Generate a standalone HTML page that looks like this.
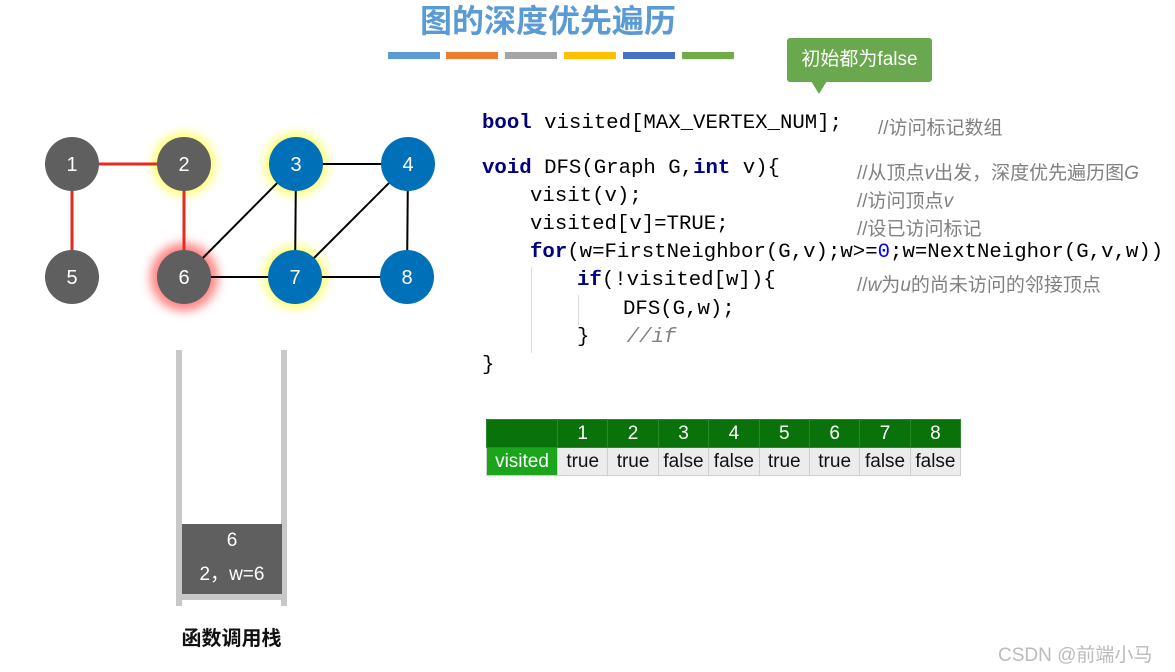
<!DOCTYPE html>
<html><head><meta charset="utf-8"><style>
body{margin:0;width:1175px;height:672px;background:#fff;position:relative;overflow:hidden;font-family:"Liberation Sans","Noto Sans CJK SC",sans-serif}
.a{position:absolute;white-space:pre}
.code{font-family:"Liberation Mono","Noto Sans CJK SC",monospace;font-size:20.7px;color:#000;line-height:24px}
.k{color:#000080;font-weight:bold}
.c{color:#808080;font-family:"Liberation Sans","Noto Sans CJK SC",sans-serif;font-size:19px}
.ci{color:#808080;font-style:italic}
table{border-collapse:collapse;position:absolute;left:486px;top:419px;font-size:19px}
td{width:49.4px;height:27px;padding:0;text-align:center;border:1px solid #cfcfcf}
tr.h td{background:#0a720a;color:#fff;border-color:#2a8a2a}
tr.b td{background:#ececec;color:#111}
</style></head><body>
<div class="a" style="left:420px;top:-4px;font-size:32px;font-weight:bold;color:#5b9bd5">图的深度优先遍历</div>
<div class="a" style="left:388px;top:52px;width:52px;height:7px;background:#5b9bd5"></div>
<div class="a" style="left:446px;top:52px;width:52px;height:7px;background:#ed7d31"></div>
<div class="a" style="left:505px;top:52px;width:52px;height:7px;background:#a5a5a5"></div>
<div class="a" style="left:564px;top:52px;width:52px;height:7px;background:#ffc000"></div>
<div class="a" style="left:623px;top:52px;width:52px;height:7px;background:#4472c4"></div>
<div class="a" style="left:682px;top:52px;width:52px;height:7px;background:#70ad47"></div>
<div class="a" style="left:787px;top:38px;width:145px;height:44px;background:#6aa84f;border-radius:3px;color:#fff;font-size:19px;line-height:44px;text-align:center">初始都为false</div>
<div class="a" style="left:811px;top:81px;width:0;height:0;border-left:8px solid transparent;border-right:8px solid transparent;border-top:13px solid #6aa84f"></div>

<svg class="a" style="left:0;top:0" width="460" height="340">
<defs>
<filter id="gy" x="-50%" y="-50%" width="200%" height="200%"><feGaussianBlur stdDeviation="5"/></filter>
</defs>
<circle cx="184" cy="164" r="31" fill="#ffff66" filter="url(#gy)"/>
<circle cx="296" cy="164" r="31" fill="#ffff66" filter="url(#gy)"/>
<circle cx="295" cy="277" r="31" fill="#ffff66" filter="url(#gy)"/>
<circle cx="184" cy="277" r="34" fill="#ff6666" opacity=".8" filter="url(#gy)"/>
<g stroke="#e8291c" stroke-width="3"><line x1="72" y1="164" x2="184" y2="164"/><line x1="72" y1="164" x2="72" y2="277"/><line x1="184" y1="164" x2="184" y2="277"/></g>
<g stroke="#000" stroke-width="2"><line x1="296" y1="164" x2="408" y2="164"/><line x1="296" y1="164" x2="295" y2="277"/><line x1="296" y1="164" x2="184" y2="277"/><line x1="408" y1="164" x2="295" y2="277"/><line x1="408" y1="164" x2="407" y2="277"/><line x1="184" y1="277" x2="407" y2="277"/></g>
<g fill="#5f5f5f"><circle cx="72" cy="164" r="27"/><circle cx="184" cy="164" r="27"/><circle cx="72" cy="277" r="27"/><circle cx="184" cy="277" r="27"/></g>
<g fill="#0070b8"><circle cx="296" cy="164" r="27"/><circle cx="408" cy="164" r="27"/><circle cx="295" cy="277" r="27"/><circle cx="407" cy="277" r="27"/></g>
<g fill="#fff" font-size="20" text-anchor="middle" font-family="Liberation Sans,sans-serif">
<text x="72" y="171">1</text><text x="184" y="171">2</text><text x="296" y="171">3</text><text x="408" y="171">4</text>
<text x="72" y="284">5</text><text x="184" y="284">6</text><text x="295" y="284">7</text><text x="407" y="284">8</text></g>
</svg>

<div class="a code" style="left:482px;top:112px"><span class="k">bool</span> visited[MAX_VERTEX_NUM];</div>
<div class="a c" style="left:878px;top:113px">//访问标记数组</div>
<div class="a code" style="left:482px;top:157px"><span class="k">void</span> DFS(Graph G,<span class="k">int</span> v){</div>
<div class="a c" style="left:857px;top:158px">//从顶点<i>v</i>出发，深度优先遍历图<i>G</i></div>
<div class="a code" style="left:530px;top:185px">visit(v);</div>
<div class="a c" style="left:857px;top:186px">//访问顶点<i>v</i></div>
<div class="a code" style="left:530px;top:213px">visited[v]=TRUE;</div>
<div class="a c" style="left:857px;top:214px">//设已访问标记</div>
<div class="a code" style="left:530px;top:241px"><span class="k">for</span>(w=FirstNeighbor(G,v);w&gt;=<span style="color:#0000ff">0</span>;w=NextNeighor(G,v,w))</div>
<div class="a code" style="left:577px;top:269px"><span class="k">if</span>(!visited[w]){</div>
<div class="a c" style="left:857px;top:270px">//<i>w</i>为<i>u</i>的尚未访问的邻接顶点</div>
<div class="a code" style="left:623px;top:298px">DFS(G,w);</div>
<div class="a code" style="left:577px;top:326px">}   <span class="ci">//if</span></div>
<div class="a code" style="left:482px;top:354px">}</div>
<div class="a" style="left:531px;top:267px;width:1px;height:86px;background:#ddd"></div>
<div class="a" style="left:578px;top:295px;width:1px;height:30px;background:#ddd"></div>

<table>
<tr class="h"><td style="width:70px"></td><td>1</td><td>2</td><td>3</td><td>4</td><td>5</td><td>6</td><td>7</td><td>8</td></tr>
<tr class="b"><td style="background:#1aa51a;color:#fff;width:70px">visited</td><td>true</td><td>true</td><td>false</td><td>false</td><td>true</td><td>true</td><td>false</td><td>false</td></tr>
</table>

<div class="a" style="left:176px;top:350px;width:6px;height:256px;background:#c8c8c8"></div>
<div class="a" style="left:281px;top:350px;width:6px;height:256px;background:#c8c8c8"></div>
<div class="a" style="left:176px;top:594px;width:111px;height:6px;background:#c8c8c8"></div>
<div class="a" style="left:182px;top:524px;width:100px;height:70px;background:#5f5f5f;color:#fff;font-size:19px;text-align:center;line-height:34px">6<br>2，w=6</div>
<div class="a" style="left:176px;top:622px;width:111px;text-align:center;font-size:20px;font-weight:bold;color:#111">函数调用栈</div>
<div class="a" style="left:998px;top:640px;font-size:19px;color:#bbb">CSDN @前端小马</div>
</body></html>
